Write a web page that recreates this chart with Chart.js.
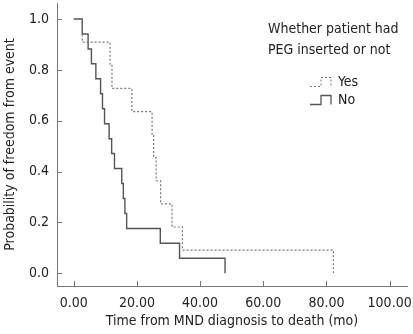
<!DOCTYPE html>
<html>
<head>
<meta charset="utf-8">
<script src="https://cdn.jsdelivr.net/npm/chart.js@4/dist/chart.umd.min.js"></script>
<style>
html,body{margin:0;padding:0;background:#fff;}
#wrap{position:relative;width:413px;height:334px;}
</style>
</head>
<body>
<div id="wrap"><canvas id="c" width="413" height="334"></canvas></div>
<script>
const xTicks = [0, 20, 40, 60, 80, 100];
const yTicks = [0, 0.2, 0.4, 0.6, 0.8, 1.0];
const seriesNames = ['Yes', 'No'];
const legendTitle = ['Whether patient had', 'PEG inserted or not'];
const xTitle = 'Time from MND diagnosis to death (mo)';
const yTitle = 'Probability of freedom from event';

const yesTime = [0, 2.7, 11.5, 12.1, 18.4, 24.8, 25.3, 26.1, 27.5, 31.1, 34.4, 82.2];
const yesSurv = [1, 0.909, 0.818, 0.727, 0.636, 0.545, 0.455, 0.364, 0.273, 0.182, 0.091, 0];
const noTime = [0, 2.7, 4.55, 5.6, 7.0, 8.5, 9.1, 9.75, 11.2, 12.0, 12.9, 15.2, 15.7, 16.2, 16.75, 27.4, 33.5, 47.9];
const noSurv = [1, 0.941, 0.882, 0.824, 0.765, 0.706, 0.647, 0.588, 0.529, 0.471, 0.412, 0.353, 0.294, 0.235, 0.176, 0.118, 0.059, 0];

const FONT = '"DejaVu Sans Condensed", "DejaVu Sans", sans-serif';
const AXIS = '#777';
const TEXT = '#222';

function pts(t, s) { return t.map((v, i) => ({ x: v, y: s[i] })); }

const tickPlugin = {
  id: 'innerTicks',
  afterDraw(chart) {
    const ctx = chart.ctx, a = chart.chartArea;
    const xs = chart.scales.x, ys = chart.scales.y;
    ctx.save();
    ctx.strokeStyle = AXIS; ctx.lineWidth = 1;
    ctx.beginPath();
    xTicks.forEach(v => { const p = Math.round(xs.getPixelForValue(v)) + 0.5; ctx.moveTo(p, a.bottom); ctx.lineTo(p, a.bottom - 5); });
    yTicks.forEach(v => { const p = Math.round(ys.getPixelForValue(v)) + 0.5; ctx.moveTo(a.left, p); ctx.lineTo(a.left + 5, p); });
    ctx.stroke();
    // legend
    const lx = a.right - 139;
    ctx.fillStyle = TEXT;
    ctx.font = '14px ' + FONT;
    ctx.textBaseline = 'middle';
    ctx.textAlign = 'left';
    ctx.fillText(legendTitle[0], lx, 29);
    ctx.fillText(legendTitle[1], lx, 50);
    const items = [{ y: 82, dash: [2, 2], color: '#777', w: 1 }, { y: 100, dash: [], color: '#555', w: 1.3 }];
    items.forEach((it, i) => {
      const sx = lx + 42;
      ctx.save();
      ctx.strokeStyle = it.color; ctx.lineWidth = it.w; ctx.setLineDash(it.dash);
      ctx.beginPath();
      ctx.moveTo(sx, it.y + 4.5); ctx.lineTo(sx + 11, it.y + 4.5); ctx.lineTo(sx + 11, it.y - 4.5);
      ctx.lineTo(sx + 21, it.y - 4.5); ctx.lineTo(sx + 21, it.y + 4.5);
      ctx.stroke();
      ctx.restore();
      ctx.fillText(seriesNames[i], sx + 28, it.y);
    });
    ctx.restore();
  }
};

new Chart(document.getElementById('c'), {
  type: 'scatter',
  data: {
    datasets: [
      { label: seriesNames[0], data: pts(yesTime, yesSurv), showLine: true, stepped: true, borderColor: '#777', borderWidth: 1.2, borderDash: [2, 2], pointRadius: 0, fill: false },
      { label: seriesNames[1], data: pts(noTime, noSurv), showLine: true, stepped: true, borderColor: '#555', borderWidth: 1.4, pointRadius: 0, fill: false }
    ]
  },
  options: {
    responsive: false,
    animation: false,
    devicePixelRatio: 1,
    layout: { padding: { top: 3, right: 6, left: 0, bottom: 0 } },
    plugins: { legend: { display: false }, tooltip: { enabled: false } },
    scales: {
      x: {
        type: 'linear', min: -5.3, max: 105.5,
        afterBuildTicks(s) { s.ticks = xTicks.map(v => ({ value: v })); },
        afterFit(s) { s.height = 48; s.paddingLeft = 0; s.paddingRight = 0; s.paddingTop = 0; s.paddingBottom = 0; },
        grid: { display: false, drawTicks: false },
        border: { display: true, color: AXIS, width: 1 },
        ticks: { padding: 9, color: TEXT, font: { family: FONT, size: 14 }, maxRotation: 0, autoSkip: false, callback: v => Number(v).toFixed(2) },
        title: { display: true, text: xTitle, color: TEXT, font: { family: FONT, size: 14 }, padding: { top: 0, bottom: 4 } }
      },
      y: {
        type: 'linear', min: -0.05, max: 1.063,
        afterBuildTicks(s) { s.ticks = yTicks.map(v => ({ value: v })); },
        afterFit(s) { s.width = 57; s.paddingLeft = 0; s.paddingRight = 0; s.paddingTop = 0; s.paddingBottom = 0; },
        grid: { display: false, drawTicks: false },
        border: { display: true, color: AXIS, width: 1 },
        ticks: { padding: 8, color: TEXT, font: { family: FONT, size: 14 }, autoSkip: false, callback: v => Number(v).toFixed(1) },
        title: { display: true, text: yTitle, color: TEXT, font: { family: FONT, size: 14 }, padding: { top: 2, bottom: 2 } }
      }
    }
  },
  plugins: [tickPlugin]
});
</script>
</body>
</html>
